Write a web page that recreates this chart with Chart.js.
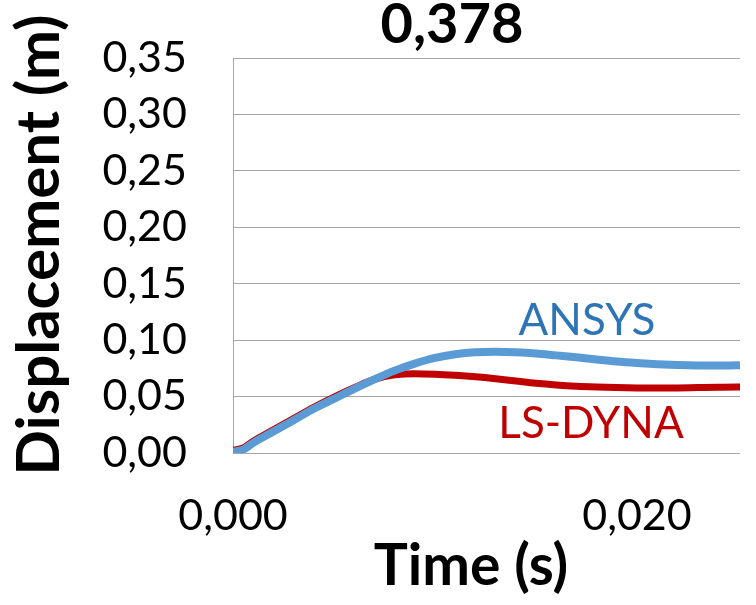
<!DOCTYPE html>
<html>
<head>
<meta charset="utf-8">
<script src="https://cdn.jsdelivr.net/npm/chart.js@4.4.0/dist/chart.umd.min.js"></script>
<style>
  html, body { margin: 0; padding: 0; background: #ffffff; }
  #wrap { width: 756px; height: 605px; }
</style>
</head>
<body>
<div id="wrap"><canvas id="chart" width="756" height="605"></canvas></div>
<script>
// Time samples (s)
const timeS = [0, 0.0005, 0.001, 0.002, 0.003, 0.004, 0.005, 0.006, 0.007, 0.008,
  0.009, 0.010, 0.011, 0.012, 0.013, 0.014, 0.015, 0.016, 0.017, 0.018,
  0.019, 0.020, 0.021, 0.022, 0.023, 0.024, 0.025, 0.0251];

// Displacement (m), ANSYS model
const ansys = [0.001, 0.003, 0.009, 0.019, 0.029, 0.0392, 0.048, 0.0568, 0.0652, 0.073,
  0.0792, 0.0842, 0.0875, 0.0893, 0.0898, 0.0893, 0.0882, 0.0865, 0.0848, 0.0828,
  0.0810, 0.0797, 0.0787, 0.0780, 0.0776, 0.0775, 0.0777, 0.0778];

// Displacement (m), LS-DYNA model
const lsDyna = [0.0025, 0.0045, 0.0105, 0.0205, 0.0305, 0.0405, 0.0495, 0.0578, 0.0652, 0.0692,
  0.0703, 0.0698, 0.0688, 0.0675, 0.0658, 0.0638, 0.0618, 0.0603, 0.0592, 0.0585,
  0.0580, 0.0577, 0.0576, 0.0577, 0.0580, 0.0583, 0.0585, 0.0585];

// Axis ticks and texts
const yTicks = [0, 0.05, 0.10, 0.15, 0.20, 0.25, 0.30, 0.35];
const xTicks = [0, 0.020];
const chartTitle = '0,378';
const xTitle = 'Time (s)';
const yTitle = 'Displacement (m)';
const seriesNames = ['ANSYS', 'LS-DYNA'];

const FONT = 'Lato';
const GRID = '#A6A6A6';
const CLEAR = 'rgba(0,0,0,0)';

const toPoints = (ys) => timeS.map((t, i) => ({ x: t, y: ys[i] }));
const fmt = (v, digits) => v.toFixed(digits).replace('.', ',');

// Titles and series labels drawn straight onto the canvas
const textPlugin = {
  id: 'texts',
  afterDraw(chart) {
    const ctx = chart.ctx;
    ctx.save();
    ctx.fillStyle = '#000000';
    ctx.textAlign = 'center';
    ctx.textBaseline = 'alphabetic';

    ctx.font = `bold 56px ${FONT}`;
    ctx.fillText(chartTitle, 452, 43);

    ctx.font = `bold 57px ${FONT}`;
    ctx.fillText(xTitle, 471, 585);

    ctx.save();
    ctx.translate(59, 245);
    ctx.rotate(-Math.PI / 2);
    ctx.font = `bold 60px ${FONT}`;
    ctx.fillText(yTitle, 0, 0);
    ctx.restore();

    ctx.font = `44px ${FONT}`;
    ctx.fillStyle = '#2E75B6';
    ctx.fillText(seriesNames[0], 587, 335);
    ctx.fillStyle = '#C00000';
    ctx.fillText(seriesNames[1], 591, 438);
    ctx.restore();
  }
};

new Chart(document.getElementById('chart'), {
  type: 'line',
  data: {
    datasets: [
      {
        label: seriesNames[0],
        data: toPoints(ansys),
        borderColor: '#5B9BD5',
        borderWidth: 8,
        pointRadius: 0,
        cubicInterpolationMode: 'monotone',
        order: 0
      },
      {
        label: seriesNames[1],
        data: toPoints(lsDyna),
        borderColor: '#C00000',
        borderWidth: 7,
        pointRadius: 0,
        cubicInterpolationMode: 'monotone',
        order: 1
      }
    ]
  },
  options: {
    responsive: false,
    animation: false,
    events: [],
    layout: { padding: { left: 0, right: 16, top: 58, bottom: 0 } },
    plugins: {
      legend: { display: false },
      title: { display: false },
      tooltip: { enabled: false }
    },
    scales: {
      x: {
        type: 'linear',
        min: 0,
        max: 0.0251,
        afterBuildTicks: (s) => { s.ticks = xTicks.map(v => ({ value: v })); },
        afterFit: (s) => { s.height = 152; },
        grid: { display: false, drawTicks: false },
        border: { display: false },
        ticks: {
          autoSkip: false,
          padding: 37,
          color: '#000000',
          font: { family: FONT, size: 43 },
          maxRotation: 0,
          callback: (v) => fmt(v, 3)
        }
      },
      y: {
        type: 'linear',
        min: 0,
        max: 0.35,
        afterBuildTicks: (s) => { s.ticks = yTicks.map(v => ({ value: v })); },
        afterFit: (s) => { s.width = 233; },
        grid: { color: GRID, lineWidth: 1, drawTicks: true, tickLength: 46, tickColor: CLEAR },
        border: { display: true, color: GRID, width: 1 },
        ticks: {
          autoSkip: false,
          padding: 0,
          color: '#000000',
          font: { family: FONT, size: 43 },
          callback: (v) => fmt(v, 2)
        }
      }
    }
  },
  plugins: [textPlugin]
});
</script>
</body>
</html>
